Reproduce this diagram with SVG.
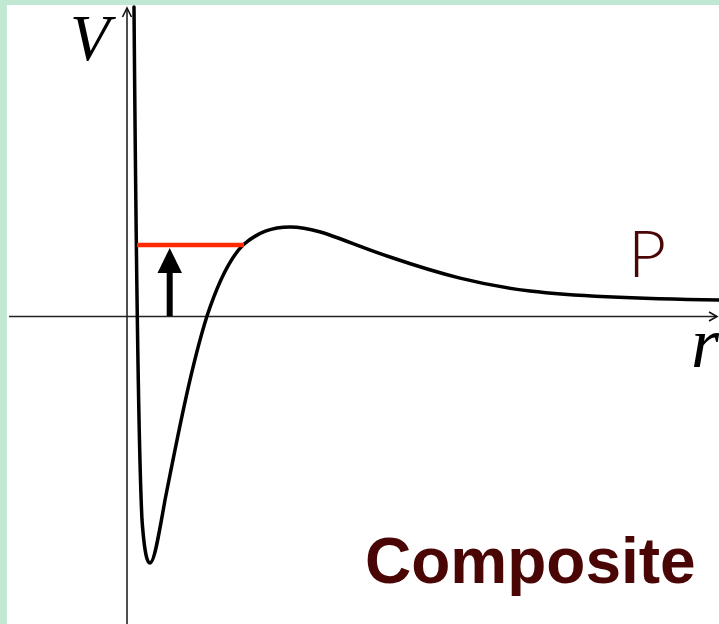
<svg xmlns="http://www.w3.org/2000/svg" width="719" height="624" viewBox="0 0 719 624">
<style>
.axis{stroke:#222;stroke-width:1.6;fill:none}
.head{stroke:#111;stroke-width:1.6;fill:none;stroke-linejoin:miter}
.curve{stroke:#000;stroke-width:3.5;fill:none;stroke-linecap:round;stroke-linejoin:round}
.math{font-family:"Liberation Serif","Times New Roman",serif;font-style:italic;fill:#000}
.lbl{fill:#4a0505;font-family:"Liberation Sans",Arial,sans-serif}
</style>
<rect x="0" y="0" width="719" height="624" fill="#c1e8d3"/>
<rect x="7" y="5" width="712" height="619" fill="#ffffff"/>
<g id="axes">
<line class="axis" x1="127" y1="8" x2="127" y2="624"/>
<polyline class="head" points="122.5,17 127,8 131.5,17"/>
<line class="axis" x1="9" y1="316.5" x2="717" y2="316.5"/>
<polyline class="head" points="709,312 717,316.5 709,321"/>
</g>
<g id="potential">
<path class="curve" d="M134,7 C136,250 138,440 142,520 C145,560 148,563 150,563 C154,563 158,540 165,500 C175,450 190,370 207,316 C218,283 230,258 243,245 C258,232 272,227 290,227 C318,227 345,242 390,257 C440,274 480,285 530,291 C580,297 650,299 719,300"/>
</g>
<g id="level">
<line x1="137" y1="245" x2="244" y2="245" stroke="#ff2a00" stroke-width="4.5"/>
</g>
<g id="connectors">
<line x1="169.7" y1="316" x2="169.7" y2="268" stroke="#000" stroke-width="6"/>
<polygon points="169.7,248 182,273 157.5,273" fill="#000"/>
</g>
<g id="labels">
<text class="math" x="70" y="60" font-size="65">V</text>
<text class="math" x="691" y="367" font-size="72">r</text>
<text class="lbl" x="628" y="277" font-size="66" style="font-family:Lato,'Liberation Sans',sans-serif;font-weight:300">P</text>
<text class="lbl" x="365" y="583" font-size="64" font-weight="bold" fill="#470000">Composite</text>
</g>
</svg>
